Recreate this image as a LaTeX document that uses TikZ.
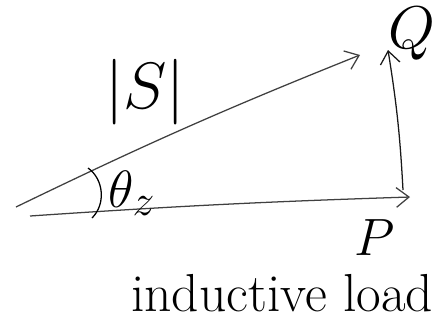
\documentclass[tikz,border=0pt]{standalone}
\usepackage{amsmath,amssymb}
\usepackage{tikz}
\usetikzlibrary{arrows.meta,positioning}

\begin{document}
\begin{tikzpicture}[x=0.025cm,y=-0.025cm,
  phasor/.style={-{Straight Barb[length=9pt,width=14pt]},line width=0.9pt,black!75},
  lbl/.style={font=\Huge,scale=1.5}]
\useasboundingbox (0,0) rectangle (441,323);
% corners of the triangle
\coordinate (sorig) at (16,207);
\coordinate (porig) at (30,216);
\coordinate (send) at (360,55);
\coordinate (pend) at (410,197);
\coordinate (qorig) at (403,190);
\coordinate (qend) at (388,50);
% the three phasors
\draw[phasor] (sorig) to[bend left=2] (send);
\draw[phasor] (porig) to[bend left=1] (pend);
\draw[phasor,black!90] (qorig) to[bend right=3] (qend);
% angle mark
\coordinate (arca) at (88,168);
\coordinate (arcb) at (92,218);
\draw[line width=0.9pt] (arca) to[bend left=50] (arcb);
% labels
\node[lbl,scale=1.25] (slabel) at (145,92) {$|S|$};
\node[lbl] (thlabel) at (132,193) {$\theta_z$};
\node[lbl,scale=1.15] (qlabel) at (412,34) {$Q$};
\node[lbl] (plabel) at (375,238) {$P$};
\node[lbl,scale=1.02] (loadlabel) at (282,293) {inductive load};
\end{tikzpicture}
\end{document}
